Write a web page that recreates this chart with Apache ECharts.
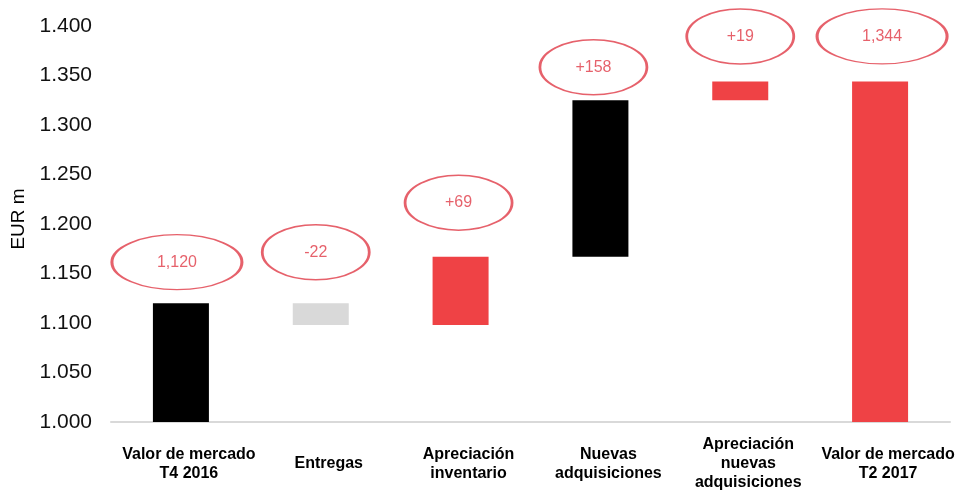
<!DOCTYPE html>
<html>
<head>
<meta charset="utf-8">
<script src="https://cdn.jsdelivr.net/npm/echarts@6/dist/echarts.min.js"></script>
<style>html,body{margin:0;padding:0;background:#fff}#c{width:961px;height:493px}</style>
</head>
<body>
<div id="c"></div>
<script>
// ---- data ----
const categories = ['Valor de mercado\nT4 2016', 'Entregas', 'Apreciación\ninventario', 'Nuevas\nadquisiciones', 'Apreciación\nnuevas\nadquisiciones', 'Valor de mercado\nT2 2017'];
const changes = [1120, -22, 69, 158, 19, 1344];          // first and last are totals
const isTotal = [true, false, false, false, false, true];
const bubbleLabels = ['1,120', '-22', '+69', '+158', '+19', '1,344'];
const yTicks = [1000, 1400, 50];                          // min, max, step

// ---- styling / layout ----
const barColors = ['#000000', '#d9d9d9', '#ef4245', '#000000', '#ef4245', '#ef4245'];
const bubbleOffsets = [[-4, -41], [-5, -51], [-2, -54], [-7, -33], [0, -45], [2, -45]];
const bubbleSizes = [[130, 55], [107, 55], [107, 55], [107, 55], [107, 55], [130, 55]];
const RED = '#e03a46';

// build waterfall stacks from the values
const base = [], shown = [], tops = [];
let running = 0;
changes.forEach((v, i) => {
  if (isTotal[i]) { base.push(0); shown.push(v); running = v; tops.push(v); }
  else {
    const next = running + v;
    base.push(Math.min(running, next));
    shown.push(Math.abs(v));
    tops.push(Math.max(running, next));
    running = next;
  }
});

const chart = echarts.init(document.getElementById('c'));
chart.setOption({
  animation: false,
  textStyle: { fontFamily: 'Liberation Sans, Arial, sans-serif' },
  grid: { left: 111, right: 11, top: 26, bottom: 71 },
  xAxis: {
    type: 'category',
    data: categories,
    axisLine: { lineStyle: { color: '#d9d9d9', width: 2 } },
    axisTick: { show: false },
    axisLabel: {
      interval: 0, fontSize: 16, fontWeight: 'bold', color: '#000',
      lineHeight: 19, verticalAlign: 'middle', margin: 42,
      padding: [0, 0, 0, 16]
    }
  },
  yAxis: {
    type: 'value',
    min: yTicks[0], max: yTicks[1], interval: yTicks[2],
    name: 'EUR m', nameLocation: 'middle', nameGap: 83,
    nameTextStyle: { fontSize: 19, color: '#000', padding: [0, 0, 0, 10] },
    axisLine: { show: false }, axisTick: { show: false },
    splitLine: { show: false },
    axisLabel: {
      fontSize: 21, color: '#111', margin: 19,
      formatter: v => (v / 1000).toFixed(3)
    }
  },
  series: [
    {
      type: 'bar', stack: 'w', barWidth: 56, silent: true,
      itemStyle: { color: 'transparent' },
      data: base
    },
    {
      type: 'bar', stack: 'w', barWidth: 56,
      data: shown.map((v, i) => ({ value: v, itemStyle: { color: barColors[i] } }))
    },
    {
      type: 'scatter', symbol: 'circle', z: 5,
      data: tops.map((t, i) => ({
        value: [i, t],
        symbolSize: bubbleSizes[i],
        symbolOffset: bubbleOffsets[i],
        label: {
          show: true, position: 'inside', formatter: bubbleLabels[i],
          color: RED, fontSize: 16
        }
      })),
      itemStyle: { color: 'rgba(255,255,255,0)', borderColor: RED, borderWidth: 2 }
    }
  ]
});
</script>
</body>
</html>
